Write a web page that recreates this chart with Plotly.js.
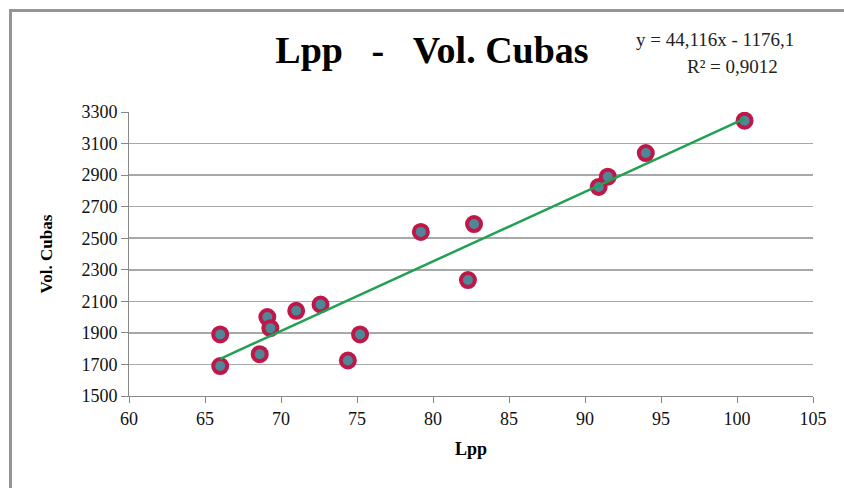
<!DOCTYPE html>
<html>
<head>
<meta charset="utf-8">
<script src="https://cdn.plot.ly/plotly-3.0.1.min.js"></script>
<style>
  html, body { margin: 0; padding: 0; background: #ffffff; }
  #wrap { position: relative; width: 844px; height: 488px; overflow: hidden; }
  #chart { position: absolute; left: 0; top: 0; width: 844px; height: 488px; }
  #frame { position: absolute; left: 9px; top: 9px; width: 900px; height: 600px;
           border-left: 3px solid #949494; border-top: 3px solid #949494; pointer-events: none; }
</style>
</head>
<body>
<div id="wrap">
  <div id="chart"></div>
  <div id="frame"></div>
</div>
<script>
// ---- data ----
const lpp = [66.0, 66.0, 68.6, 69.1, 69.3, 71.0, 72.6, 74.4, 75.2, 79.2, 82.3, 82.7, 90.9, 91.5, 94.0, 100.5];
const volCubas = [1890, 1690, 1765, 2000, 1930, 2040, 2080, 1725, 1890, 2540, 2235, 2590, 2825, 2890, 3040, 3245];
const trendSlope = 44.116;
const trendIntercept = -1176.1;
const equationText = "y = 44,116x - 1176,1";
const r2Text = "R² = 0,9012";
const xTickVals = [60, 65, 70, 75, 80, 85, 90, 95, 100, 105];
const yTickVals = [1500, 1700, 1900, 2100, 2300, 2500, 2700, 2900, 3100, 3300];

const xMin = Math.min(...lpp), xMax = Math.max(...lpp);
const trendX = [xMin, xMax];
const trendY = trendX.map(v => trendSlope * v + trendIntercept);

const serif = "'Liberation Serif', 'Times New Roman', serif";
const NB = "\u00A0";

const W = 844, H = 488;
const mL = 129, mR = 31, mT = 112, mB = 92;
const pw = W - mL - mR, ph = H - mT - mB;
const px = x => (x - mL) / pw;
const py = y => (H - mB - y) / ph;

const markers = {
  x: lpp, y: volCubas, type: 'scatter', mode: 'markers',
  marker: { size: 14, color: '#4d8798', line: { color: '#be1848', width: 4 } },
  hoverinfo: 'x+y', showlegend: false
};
const trend = {
  x: trendX, y: trendY, type: 'scatter', mode: 'lines',
  line: { color: '#22a152', width: 2.5 }, hoverinfo: 'skip', showlegend: false
};

const layout = {
  width: W, height: H,
  margin: { l: mL, r: mR, t: mT, b: mB, pad: 0 },
  paper_bgcolor: '#ffffff', plot_bgcolor: '#ffffff',
  font: { family: serif, color: '#000000' },
  title: {
    text: 'Lpp' + NB + NB + NB + '-' + NB + NB + NB + 'Vol. Cubas',
    font: { family: serif, size: 38, color: '#000000', weight: 'bold' },
    xref: 'paper', x: px(432), xanchor: 'center',
    yref: 'container', y: 1 - 50 / H, yanchor: 'middle'
  },
  xaxis: {
    range: [60, 105], tickmode: 'array', tickvals: xTickVals,
    ticks: 'outside', ticklen: 6, tickcolor: '#888888', tickwidth: 1,
    showline: true, linecolor: '#888888', linewidth: 1,
    showgrid: false, zeroline: false,
    tickfont: { family: serif, size: 18, color: '#111111' },
    title: { text: '<b>Lpp</b>', font: { family: serif, size: 18, color: '#000000' }, standoff: 14 }
  },
  yaxis: {
    range: [1500, 3300], tickmode: 'array', tickvals: yTickVals,
    ticks: 'outside', ticklen: 7, tickcolor: '#888888', tickwidth: 1,
    showline: true, linecolor: '#888888', linewidth: 1,
    showgrid: true, gridcolor: '#a8a8a8', gridwidth: 1.5, zeroline: false,
    tickfont: { family: serif, size: 18, color: '#111111' },
    title: { text: '<b>Vol. Cubas</b>', font: { family: serif, size: 17, color: '#000000' }, standoff: 24 }
  },
  annotations: [
    { text: equationText, xref: 'paper', yref: 'paper', x: px(715), y: py(40),
      xanchor: 'center', yanchor: 'middle', showarrow: false,
      font: { family: serif, size: 19, color: '#222222' } },
    { text: r2Text, xref: 'paper', yref: 'paper', x: px(732), y: py(66),
      xanchor: 'center', yanchor: 'middle', showarrow: false,
      font: { family: serif, size: 19, color: '#222222' } }
  ]
};

Plotly.newPlot('chart', [markers, trend], layout, { displayModeBar: false, staticPlot: true });
</script>
</body>
</html>
